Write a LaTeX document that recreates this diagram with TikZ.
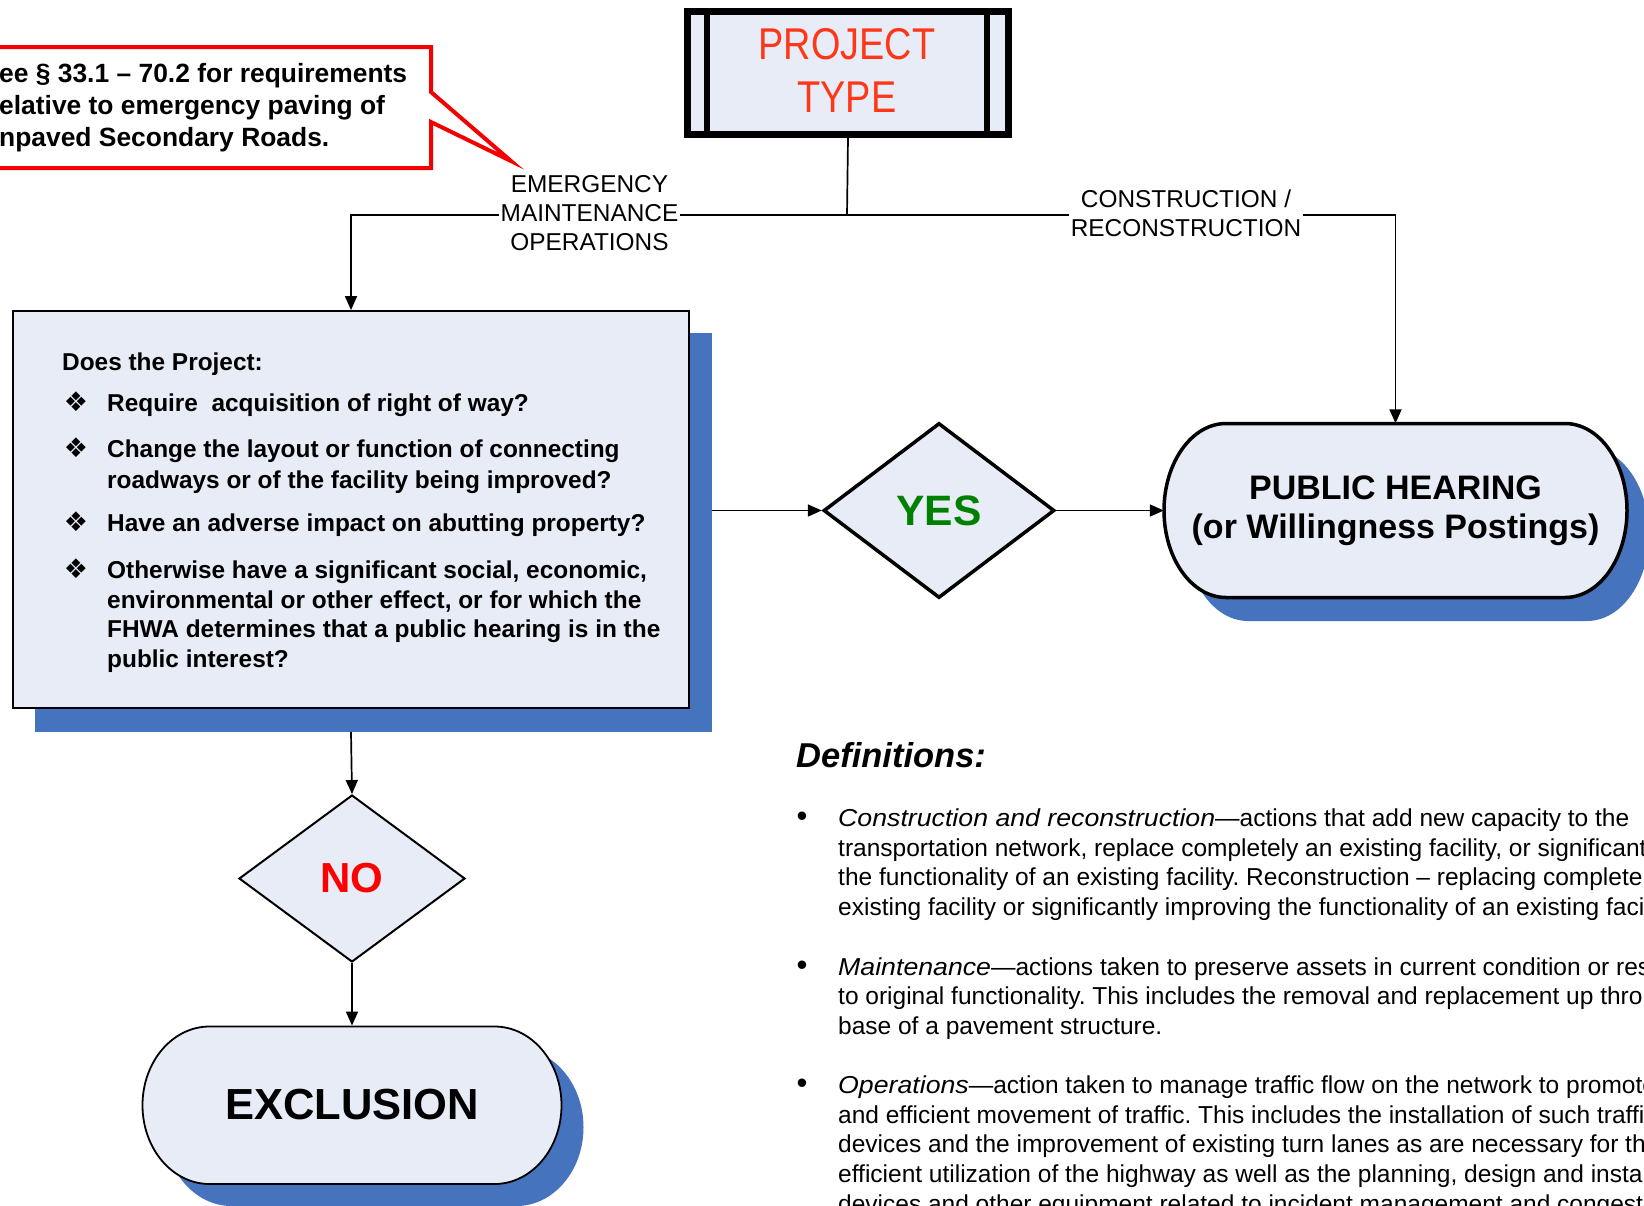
\documentclass[tikz,border=0pt]{standalone}
\usepackage{fontspec}
\setmainfont{Liberation Sans}
\newfontfamily\dejavu{DejaVu Sans}
\newfontfamily\narrowfont[FakeStretch=0.85]{Liberation Sans}
\newfontfamily\defit[FakeStretch=1.09]{Liberation Sans}
\usetikzlibrary{arrows.meta,shapes.geometric}
\definecolor{boxfill}{RGB}{231,236,247}
\definecolor{shadowblue}{RGB}{70,115,190}
\definecolor{ptred}{RGB}{255,55,25}
\definecolor{yesgreen}{RGB}{0,128,0}
\definecolor{calloutred}{RGB}{245,0,0}
\newcommand{\fsz}[2]{\fontsize{#1}{#2}\selectfont}
\newcommand{\defital}[1]{{\defit\itshape #1}}
\begin{document}
\frenchspacing
\begin{tikzpicture}[x=1pt,y=1pt,
  conn/.style={line width=1.7pt, draw=black},
  arr/.style={conn, -{Triangle[length=14pt,width=12pt]}},
  qtext/.style={anchor=base west, inner sep=0pt, font=\bfseries\fsz{24.4}{30}},
  qbullet/.style={anchor=base, inner sep=0pt, font=\dejavu\fsz{27}{27}},
  dtext/.style={anchor=base west, inner sep=0pt, font=\fsz{24.5}{30}},
  dbullet/.style={anchor=base, inner sep=0pt, font=\fsz{31}{31}},
  ctext/.style={anchor=base west, inner sep=0pt, font=\bfseries\fsz{26.4}{32}},
  lbl/.style={fill=white, inner sep=2pt, align=center, font=\fsz{24.4}{29}},
]
\useasboundingbox (0,0) rectangle (1644,-1205);
\clip (0,0) rectangle (1644,-1205);
\fill[white] (0,0) rectangle (1644,-1205);

% ---- callout ----
\filldraw[draw=calloutred, line width=4pt, fill=white, line join=miter]
  (-20,-47) -- (431,-47) -- (431,-92) -- (511,-161) -- (431,-122) -- (431,-168) -- (-20,-168) -- cycle;
\node[ctext] (c1) at (-1,-82) {ee § 33.1 – 70.2 for requirements};
\node[ctext] (c2) at (-1,-114) {elative to emergency paving of};
\node[ctext] (c3) at (-1,-146) {npaved Secondary Roads.};

% ---- project type ----
\node[draw, line width=7pt, fill=boxfill, minimum width=321pt, minimum height=123pt, inner sep=0pt] (pt) at (848,-73) {};
\draw[line width=6pt] (707,-11.5) -- (707,-134.5);
\draw[line width=6pt] (987,-11.5) -- (987,-134.5);
\node[align=center, text=ptred, font=\narrowfont\fsz{44.5}{53}] (ptt) at (847,-70.5) {PROJECT\\TYPE};

% ---- question box ----
\node[fill=shadowblue, minimum width=677pt, minimum height=399pt, inner sep=0pt] (qs) at (373.5,-532.5) {};
\node[draw, line width=1.8pt, fill=boxfill, minimum width=676pt, minimum height=397pt, inner sep=0pt] (q) at (351,-509.5) {};
\node[qtext] (q0) at (62,-370) {Does the Project:};
\node[qbullet] (b1) at (76,-411.5) {❖};
\node[qbullet] (b2) at (76,-457.5) {❖};
\node[qbullet] (b3) at (76,-531) {❖};
\node[qbullet] (b4) at (76,-578) {❖};
\node[qtext] (q1) at (107,-411.5) {Require\ \ acquisition of right of way?};
\node[qtext] (q2) at (107,-457.5) {Change the layout or function of connecting};
\node[qtext] (q3) at (107,-488) {roadways or of the facility being improved?};
\node[qtext] (q4) at (107,-531) {Have an adverse impact on abutting property?};
\node[qtext] (q5) at (107,-578) {Otherwise have a significant social, economic,};
\node[qtext] (q6) at (107,-608) {environmental or other effect, or for which the};
\node[qtext] (q7) at (107,-637) {FHWA determines that a public hearing is in the};
\node[qtext] (q8) at (107,-667) {public interest?};

% ---- YES diamond ----
\node[diamond, draw, line width=3.5pt, fill=boxfill, minimum width=231pt, minimum height=175pt, inner sep=0pt,
  text=yesgreen, font=\bfseries\fsz{42.5}{42}] (yes) at (939,-510.5) {YES};

% ---- public hearing ----
\fill[shadowblue] (1248,-447) -- (1587,-447) arc[start angle=90, end angle=-90, x radius=62, y radius=87]
  -- (1248,-621) arc[start angle=270, end angle=90, x radius=62, y radius=87] -- cycle;
\filldraw[fill=boxfill, draw=black, line width=3.5pt] (1226,-423.5) -- (1565,-423.5)
  arc[start angle=90, end angle=-90, x radius=62, y radius=87]
  -- (1226,-597.5) arc[start angle=270, end angle=90, x radius=62, y radius=87] -- cycle;
\node[minimum width=463pt, minimum height=174pt, inner sep=0pt, align=center,
  font=\bfseries\fsz{34}{39}] (ph) at (1395.5,-510.5) {PUBLIC HEARING\\(or Willingness Postings)};

% ---- NO diamond ----
\node[diamond, draw, line width=2pt, fill=boxfill, minimum width=226pt, minimum height=167pt, inner sep=0pt,
  text=red, font=\bfseries\fsz{42}{42}] (no) at (352,-878.5) {NO};

% ---- exclusion ----
\fill[shadowblue] (231.5,-1048.5) -- (516.5,-1048.5) arc[start angle=90, end angle=-90, x radius=67, y radius=78.75]
  -- (231.5,-1206) arc[start angle=270, end angle=90, x radius=67, y radius=78.75] -- cycle;
\filldraw[fill=boxfill, draw=black, line width=1.8pt] (209.5,-1026.5) -- (494.5,-1026.5)
  arc[start angle=90, end angle=-90, x radius=67, y radius=78.75]
  -- (209.5,-1184) arc[start angle=270, end angle=90, x radius=67, y radius=78.75] -- cycle;
\node[minimum width=419pt, minimum height=157.5pt, inner sep=0pt, font=\bfseries\fsz{43.5}{43}] (ex) at (352,-1104.5) {EXCLUSION};

% ---- connectors ----
\coordinate (j) at (847,-215);
\coordinate (jl) at (351,-215);
\coordinate (jr) at (1395.5,-215);
\draw[conn] (pt.south) -- (j);
\draw[arr] (j) -- (jl) -- (q.north);
\draw[arr] (j) -- (jr) -- (ph.north);
\draw[arr] (qs.east |- yes.west) -- (yes.west);
\draw[arr] (yes.east) -- (ph.west);
\draw[arr] (q.south |- qs.south) -- (no.north);
\draw[arr] (no.south) -- (ex.north);

\node[lbl] (em) at (589.5,-213) {EMERGENCY\\MAINTENANCE\\OPERATIONS};
\node[lbl] (cr) at (1186,-213.5) {CONSTRUCTION /\\RECONSTRUCTION};

% ---- definitions ----
\node[anchor=base west, inner sep=0pt, font=\bfseries\itshape\fsz{34.5}{40}] (deft) at (796,-767) {Definitions:};
\node[dbullet] (d1b) at (802,-826) {•};
\node[dbullet] (d2b) at (802,-975) {•};
\node[dbullet] (d3b) at (802,-1093) {•};
\node[dtext] (d1) at (838,-826) {\defital{Construction and reconstruction}—actions that add new capacity to the};
\node[dtext] (d2) at (838,-856) {transportation network, replace completely an existing facility, or significant};
\node[dtext] (d3) at (838,-885.5) {the functionality of an existing facility. Reconstruction – replacing complete};
\node[dtext] (d4) at (838,-915.5) {existing facility or significantly improving the functionality of an existing faci};
\node[dtext] (d5) at (838,-975) {\defital{Maintenance}—actions taken to preserve assets in current condition or res};
\node[dtext] (d6) at (838,-1004.5) {to original functionality. This includes the removal and replacement up thro};
\node[dtext] (d7) at (838,-1034) {base of a pavement structure.};
\node[dtext] (d8) at (838,-1093) {\defital{Operations}—action taken to manage traffic flow on the network to promote};
\node[dtext] (d9) at (838,-1123) {and efficient movement of traffic. This includes the installation of such traffi};
\node[dtext] (d10) at (838,-1152.5) {devices and the improvement of existing turn lanes as are necessary for th};
\node[dtext] (d11) at (838,-1182.5) {efficient utilization of the highway as well as the planning, design and instal};
\node[dtext] (d12) at (838,-1212) {devices and other equipment related to incident management and congesti};
\end{tikzpicture}
\end{document}
